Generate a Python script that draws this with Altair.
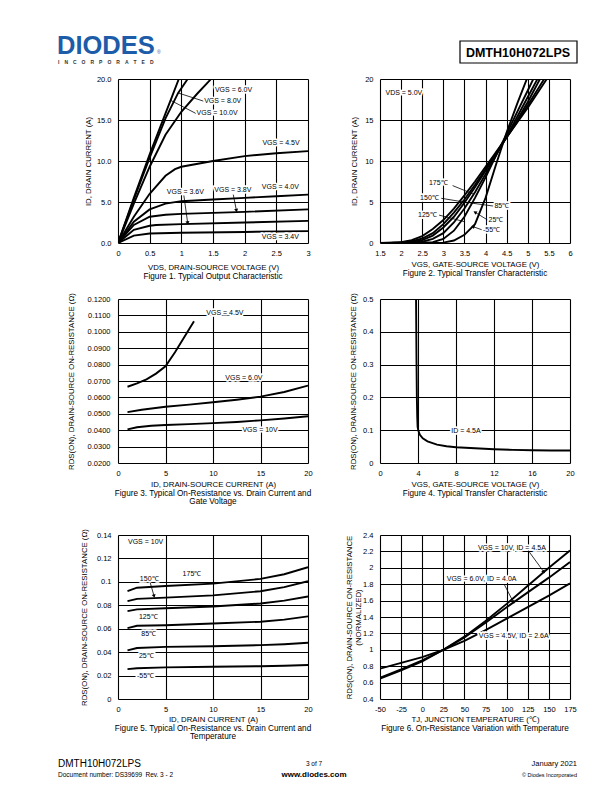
import math
import altair as alt
import pandas as pd

FONT = "Liberation Sans"
PW, PH = 190, 164
LOGO_BLUE = "#1c5ca8"

# ---------------- Figure 1: Typical Output Characteristic ----------------
f1_names = ["VGS = 10.0V", "VGS = 8.0V", "VGS = 6.0V", "VGS = 4.5V",
            "VGS = 4.0V", "VGS = 3.8V", "VGS = 3.6V", "VGS = 3.4V"]
f1_x = [
    [0, 0.25, 0.5, 0.75, 0.85, 0.96, 1.0],
    [0, 0.25, 0.5, 0.75, 0.95, 1.1, 1.15],
    [0, 0.25, 0.5, 0.75, 1.0, 1.25, 1.47, 1.5],
    [0, 0.25, 0.5, 0.75, 0.9, 1.0, 1.5, 2.0, 2.5, 3.0],
    [0, 0.25, 0.5, 0.75, 1.0, 1.5, 2.0, 2.5, 3.0],
    [0, 0.25, 0.5, 0.75, 1.0, 2.0, 3.0],
    [0, 0.25, 0.5, 0.6, 1.0, 2.0, 3.0],
    [0, 0.25, 0.5, 1.0, 2.0, 3.0],
]
f1_y = [
    [0, 5.5, 10.8, 15.8, 17.8, 20.0, 20.8],
    [0, 5.3, 10.4, 15.2, 18.3, 20.0, 20.5],
    [0, 4.8, 9.3, 13.2, 16.0, 18.2, 20.0, 20.3],
    [0, 3.2, 6.0, 8.2, 9.0, 9.3, 10.0, 10.6, 10.95, 11.2],
    [0, 2.6, 4.1, 4.8, 5.1, 5.3, 5.5, 5.7, 5.9],
    [0, 2.2, 3.2, 3.45, 3.55, 3.8, 4.1],
    [0, 1.6, 2.1, 2.2, 2.3, 2.5, 2.7],
    [0, 0.9, 1.15, 1.25, 1.35, 1.45],
]
f1_lab_t = ["VGS = 6.0V", "VGS = 8.0V", "VGS = 10.0V", "VGS = 4.5V",
            "VGS = 3.6V", "VGS = 3.8V", "VGS = 4.0V", "VGS = 3.4V"]
f1_lab_x = [1.53, 1.36, 1.24, 2.28, 0.77, 1.52, 2.27, 2.27]
f1_lab_y = [18.7, 17.3, 15.8, 12.2, 6.2, 6.5, 6.8, 0.72]
f1_ld = [(1.35, 17.3, 0.95, 18.3, 0), (1.23, 15.8, 0.83, 17.4, 0),
         (1.04, 5.8, 1.1, 2.45, 1), (1.82, 5.9, 1.87, 3.95, 1)]

# ---------------- Figure 2: Typical Transfer Characteristic ----------------
f2_names = ["-55℃", "25℃", "85℃", "125℃", "150℃", "175℃"]
f2_x = [
    [2.5, 3.0, 3.25, 3.5, 3.75, 4.0, 4.25, 4.5, 4.75, 5.0, 5.05],
    [2.25, 2.75, 3.0, 3.25, 3.5, 3.75, 4.0, 4.25, 4.5, 4.75, 5.0, 5.15, 5.2],
    [2.0, 2.5, 2.75, 3.0, 3.25, 3.5, 3.75, 4.0, 4.25, 4.5, 4.75, 5.0, 5.25, 5.3],
    [2.0, 2.5, 2.75, 3.0, 3.25, 3.5, 3.75, 4.0, 4.25, 4.5, 4.75, 5.0, 5.3, 5.35],
    [1.75, 2.25, 2.5, 2.75, 3.0, 3.25, 3.5, 3.75, 4.0, 4.25, 4.5, 4.75, 5.0, 5.4, 5.45],
    [1.5, 2.0, 2.25, 2.5, 2.75, 3.0, 3.25, 3.5, 3.75, 4.0, 4.25, 4.5, 4.75, 5.0, 5.45, 5.5],
]
f2_y = [
    [0, 0.05, 0.3, 1.0, 2.3, 5.5, 9.6, 13.5, 17.0, 20.3, 21.0],
    [0, 0.1, 0.5, 1.5, 3.2, 5.5, 8.0, 10.7, 13.3, 16.0, 18.6, 20.2, 20.8],
    [0, 0.15, 0.5, 1.2, 2.5, 4.2, 6.2, 8.4, 10.7, 13.0, 15.4, 17.8, 20.2, 20.6],
    [0.05, 0.35, 0.9, 1.9, 3.2, 4.9, 6.8, 8.8, 10.9, 12.9, 15.0, 17.2, 20.1, 20.5],
    [0, 0.2, 0.55, 1.2, 2.3, 3.7, 5.3, 7.1, 9.0, 11.0, 12.9, 14.8, 16.8, 20.1, 20.5],
    [0, 0.1, 0.35, 0.85, 1.7, 2.8, 4.2, 5.8, 7.5, 9.3, 11.1, 12.9, 14.7, 16.5, 20.0, 20.4],
]
f2_lab_t = ["VDS = 5.0V", "175℃", "150℃", "125℃", "85℃", "25℃", "-55℃"]
f2_lab_x = [1.63, 2.66, 2.45, 2.4, 4.21, 4.07, 3.94]
f2_lab_y = [18.3, 7.3, 5.5, 3.4, 4.48, 2.77, 1.55]
f2_ld = [(3.22, 7.0, 3.72, 5.95, 0), (2.95, 5.45, 3.55, 4.95, 0),
         (4.19, 4.5, 3.62, 4.9, 0), (2.9, 3.4, 3.5, 2.6, 0),
         (4.05, 2.8, 3.75, 3.75, 1), (3.92, 1.6, 3.7, 2.0, 1)]

# ---------------- Figure 3 ----------------
f3_names = ["VGS = 4.5V", "VGS = 6.0V", "VGS = 10V"]
f3_x = [
    [1, 2, 3, 4, 5, 6, 7, 8],
    [1, 2.5, 5, 7.5, 10, 12.5, 15, 17.5, 20],
    [1, 2, 3.5, 5, 7.5, 10, 12.5, 15, 17.5, 20],
]
f3_y = [
    [0.0665, 0.0685, 0.0710, 0.0745, 0.0790, 0.0875, 0.0970, 0.1065],
    [0.0510, 0.0525, 0.0543, 0.0556, 0.0570, 0.0586, 0.0605, 0.0633, 0.0672],
    [0.0405, 0.0418, 0.0427, 0.0432, 0.0437, 0.0443, 0.0450, 0.0460, 0.0471, 0.0485],
]
f3_lab_t = ["VGS = 4.5V", "VGS = 6.0V", "VGS = 10V"]
f3_lab_x = [9.3, 11.3, 13.1]
f3_lab_y = [0.1112, 0.0717, 0.0404]
f3_ld = []

# ---------------- Figure 4 ----------------
f4_names = ["ID = 4.5A"]
f4_x = [[3.79, 3.84, 3.88, 3.92, 3.96, 4.04, 4.2, 4.5, 5, 6, 7, 8, 10, 12, 14, 16, 18, 20]]
f4_y = [[0.52, 0.32, 0.2, 0.14, 0.11, 0.098, 0.086, 0.075, 0.066, 0.056, 0.051, 0.048,
         0.045, 0.042, 0.040, 0.039, 0.038, 0.038]]
f4_lab_t = ["ID = 4.5A"]
f4_lab_x = [7.5]
f4_lab_y = [0.097]
f4_ld = []

# ---------------- Figure 5 ----------------
f5_names = ["175℃", "150℃", "125℃", "85℃", "25℃", "-55℃"]
f5_x = [[1, 2, 5, 10, 15, 17.5, 20]] * 6
f5_y = [
    [0.0920, 0.0950, 0.0965, 0.0985, 0.1025, 0.1065, 0.1125],
    [0.0835, 0.0855, 0.0865, 0.0885, 0.0920, 0.0955, 0.1005],
    [0.0750, 0.0765, 0.0775, 0.0790, 0.0815, 0.0840, 0.0875],
    [0.0605, 0.0625, 0.0630, 0.0645, 0.0660, 0.0678, 0.0705],
    [0.0415, 0.0435, 0.0445, 0.0450, 0.0460, 0.0468, 0.0480],
    [0.0255, 0.0262, 0.0270, 0.0275, 0.0280, 0.0284, 0.0290],
]
f5_lab_t = ["VGS = 10V", "175℃", "150℃", "125℃", "85℃", "25℃", "-55℃"]
f5_lab_x = [1.05, 6.8, 2.3, 2.2, 2.45, 2.2, 2.0]
f5_lab_y = [0.1337, 0.1065, 0.1028, 0.0701, 0.0555, 0.0364, 0.0200]
f5_ld = [(3.4, 0.0990, 3.8, 0.0878, 1)]

# ---------------- Figure 6 ----------------
f6_names = ["VGS = 10V, ID = 4.5A", "VGS = 6.0V, ID = 4.0A", "VGS = 4.5V, ID = 2.6A"]
f6_x = [[-50, -25, 0, 25, 50, 75, 100, 125, 150, 175]] * 3
f6_y = [
    [0.65, 0.75, 0.86, 1.00, 1.16, 1.35, 1.56, 1.78, 2.00, 2.21],
    [0.66, 0.76, 0.87, 1.00, 1.15, 1.33, 1.52, 1.70, 1.88, 2.07],
    [0.77, 0.84, 0.91, 1.00, 1.11, 1.24, 1.38, 1.52, 1.66, 1.81],
]
f6_lab_t = ["VGS = 10V, ID = 4.5A", "VGS = 6.0V, ID = 4.0A", "VGS = 4.5V, ID = 2.6A"]
f6_lab_x = [66, 29, 67]
f6_lab_y = [2.236, 1.86, 1.165]
f6_ld = [(127, 2.19, 144, 1.95, 1), (97, 1.80, 108, 1.58, 1)]

NOVIEW = alt.ViewBackground(stroke="transparent", strokeOpacity=0, strokeWidth=0)


def curves_df(names, xs, ys):
    rows = []
    for n, xx, yy in zip(names, xs, ys):
        for i, (a, b) in enumerate(zip(xx, yy)):
            rows.append({"s": n, "x": a, "y": b, "o": i})
    return pd.DataFrame(rows)


def make_panel(names, xs, ys, xdom, ydom, xvals, yvals, xfmt, yfmt, xtitle, ytitle,
               caption, lab_t, lab_x, lab_y, leaders, ytx=-29, xty=21.5, ylp=7):
    sx = alt.Scale(domain=xdom, nice=False, zero=False)
    sy = alt.Scale(domain=ydom, nice=False, zero=False)
    common = dict(grid=True, ticks=False, domain=False, labelFlush=False,
                  labelOverlap=False,
                  labelFont=FONT, labelFontSize=7.5, labelColor="black",
                  titleFont=FONT, titleFontSize=7.8, titleFontWeight="normal",
                  titleColor="black", gridColor="black", gridWidth=1.1, gridOpacity=1,
                  titleLineHeight=8.5,
                  labelExpr="replace(datum.label, '\u2212', '-')")
    xaxis = alt.Axis(values=xvals, format=xfmt, title=xtitle, labelPadding=6,
                     titleX=PW / 2, titleY=xty, titleBaseline="middle", titleAlign="center",
                     **common)
    yaxis = alt.Axis(values=yvals, format=yfmt, title=ytitle, labelPadding=ylp,
                     titleX=ytx, titleY=PH / 2, titleBaseline="middle", titleAlign="center",
                     titleAngle=270, **common)

    def X(f):
        return alt.X(f, scale=sx, axis=xaxis)

    def Y(f):
        return alt.Y(f, scale=sy, axis=yaxis)

    df = curves_df(names, xs, ys)
    lines = alt.Chart(df).mark_line(color="black", strokeWidth=1.9, clip=True).encode(
        x=X("x:Q"), y=Y("y:Q"), detail="s:N", order="o:Q")
    layers = [lines]
    if leaders:
        ldf = pd.DataFrame(leaders, columns=["x", "y", "x2", "y2", "head"])
        kx = PW / (xdom[1] - xdom[0])
        ky = PH / (ydom[1] - ydom[0])
        ldf["ang"] = [
            math.degrees(math.atan2((r.x2 - r.x) * kx, (r.y2 - r.y) * ky)) % 360
            for r in ldf.itertuples()
        ]
        layers.append(alt.Chart(ldf).mark_rule(color="black", strokeWidth=0.8).encode(
            x=X("x:Q"), y=Y("y:Q"), x2="x2:Q", y2="y2:Q"))
        hd = ldf[ldf["head"] == 1].copy()
        if len(hd):
            hd["x"] = hd["x2"]
            hd["y"] = hd["y2"]
            layers.append(alt.Chart(hd).mark_point(
                shape="triangle-up", filled=True, color="black", opacity=1, size=16).encode(
                x=X("x:Q"), y=Y("y:Q"), angle=alt.Angle("ang:Q", scale=None)))
    tdf = pd.DataFrame({"t": lab_t, "x": lab_x, "y": lab_y})
    layers.append(alt.Chart(tdf).mark_text(
        align="left", baseline="middle", font=FONT, fontSize=7, fill="white",
        stroke="white", strokeWidth=3.5, strokeJoin="round").encode(
        x=X("x:Q"), y=Y("y:Q"), text="t:N"))
    layers.append(alt.Chart(tdf).mark_text(
        align="left", baseline="middle", font=FONT, fontSize=7, color="black").encode(
        x=X("x:Q"), y=Y("y:Q"), text="t:N"))
    return alt.layer(*layers).properties(
        width=PW, height=PH,
        title=alt.TitleParams(text=caption, orient="bottom", offset=1.5,
                              baseline="top", anchor="middle", font=FONT, fontSize=8.2,
                              fontWeight="normal", color="black", lineHeight=7.8))


RDS = "RDS(ON), DRAIN-SOURCE ON-RESISTANCE (Ω)"
p1 = make_panel(f1_names, f1_x, f1_y, [0, 3], [0, 20], [0, 0.5, 1, 1.5, 2, 2.5, 3],
                [0, 5, 10, 15, 20], ".1~f", ".1f", "VDS, DRAIN-SOURCE VOLTAGE (V)",
                "ID, DRAIN CURRENT (A)", ["Figure 1. Typical Output Characteristic"],
                f1_lab_t, f1_lab_x, f1_lab_y, f1_ld, ytx=-30, xty=24.5)
p2 = make_panel(f2_names, f2_x, f2_y, [1.5, 6], [0, 20],
                [1.5, 2, 2.5, 3, 3.5, 4, 4.5, 5, 5.5, 6], [0, 5, 10, 15, 20], ".1~f", "d",
                "VGS, GATE-SOURCE VOLTAGE (V)", "ID, DRAIN CURRENT (A)",
                ["Figure 2. Typical Transfer Characteristic"],
                f2_lab_t, f2_lab_x, f2_lab_y, f2_ld, ytx=-26)
p3 = make_panel(f3_names, f3_x, f3_y, [0, 20], [0.02, 0.12], [0, 5, 10, 15, 20],
                [0.02, 0.03, 0.04, 0.05, 0.06, 0.07, 0.08, 0.09, 0.10, 0.11, 0.12],
                "d", ".4f", "ID, DRAIN-SOURCE CURRENT (A)", RDS,
                ["Figure 3. Typical On-Resistance vs. Drain Current and", "Gate Voltage"],
                f3_lab_t, f3_lab_x, f3_lab_y, f3_ld, ytx=-47, ylp=8)
p4 = make_panel(f4_names, f4_x, f4_y, [0, 20], [0, 0.5], [0, 4, 8, 12, 16, 20],
                [0, 0.1, 0.2, 0.3, 0.4, 0.5], "d", ".1~f",
                "VGS, GATE-SOURCE VOLTAGE (V)", RDS,
                ["Figure 4. Typical Transfer Characteristic"],
                f4_lab_t, f4_lab_x, f4_lab_y, f4_ld, ytx=-27)
p5 = make_panel(f5_names, f5_x, f5_y, [0, 20], [0, 0.14], [0, 5, 10, 15, 20],
                [0, 0.02, 0.04, 0.06, 0.08, 0.10, 0.12, 0.14], "d", ".2~f",
                "ID, DRAIN CURRENT (A)", RDS,
                ["Figure 5. Typical On-Resistance vs. Drain Current and", "Temperature"],
                f5_lab_t, f5_lab_x, f5_lab_y, f5_ld, ytx=-34, xty=20.5)
p6 = make_panel(f6_names, f6_x, f6_y, [-50, 175], [0.4, 2.4],
                [-50, -25, 0, 25, 50, 75, 100, 125, 150, 175],
                [round(0.4 + 0.2 * i, 1) for i in range(11)], "d", ".1~f",
                "TJ, JUNCTION TEMPERATURE (℃)",
                ["RDS(ON), DRAIN-SOURCE ON-RESISTANCE", "(NORMALIZED)"],
                ["Figure 6. On-Resistance Variation with Temperature"],
                f6_lab_t, f6_lab_x, f6_lab_y, f6_ld, ytx=-30.5, xty=20.5)

one = pd.DataFrame({"a": [0]})


def blank(w=1, h=1):
    return alt.Chart(one).mark_text(text="", opacity=0).encode(
        x=alt.value(0), y=alt.value(0)).properties(width=w, height=h, view=NOVIEW)


def txt(t, x, y, size, align="left", weight="normal", color="black", baseline="middle"):
    return alt.Chart(pd.DataFrame({"t": [t]})).mark_text(
        align=align, baseline=baseline, font=FONT, fontSize=size, fontWeight=weight,
        color=color).encode(text="t:N", x=alt.value(x), y=alt.value(y))


EM = "\u2003"
SP = "\u2002"
part_no = "DMTH10H072LPS"
box = alt.Chart(one).mark_rect(fill="white", stroke="black", strokeWidth=1.2).encode(
    x=alt.value(342), x2=alt.value(459), y=alt.value(4), y2=alt.value(26))
header = alt.layer(
    txt("DIODES", -61, 16.5, 25.5, weight="bold", color=LOGO_BLUE, baseline="alphabetic"),
    txt("®", 39, 15, 5, color=LOGO_BLUE),
    txt(EM.join("INCORPORATED"), -60, 24.5, 5, weight="bold", color="#333333"),
    box,
    txt(part_no, 400, 15.5, 12.5, align="center", weight="bold"),
).properties(width=PW, height=42, view=NOVIEW)

footer = alt.layer(
    txt(part_no, -60, 65, 10),
    txt("Document number: DS39699" + SP + "Rev. 3 - 2", -60, 76, 6.5),
    txt("3 of 7", 196, 65, 6.5, align="center"),
    txt("www.diodes.com", 196, 76, 8, align="center", weight="bold"),
    txt("January 2021", 459, 65, 7.5, align="right"),
    txt("© Diodes Incorporated", 459, 75.5, 5.5, align="right"),
).properties(width=PW, height=80, view=NOVIEW)

chart = alt.concat(
    header, blank(),
    p1, p2,
    blank(h=56), blank(),
    p3, p4,
    blank(h=72), blank(),
    p5, p6,
    footer, blank(),
    columns=2,
).properties(
    spacing={"row": 0, "column": 72}, bounds="flush", align="each",
    padding={"left": 49, "top": 23, "right": 5, "bottom": 5},
).configure_view(stroke="transparent", strokeOpacity=0, strokeWidth=0).configure(
    font=FONT, background="white")

chart.save("out.html", embed_options={"renderer": "svg", "actions": False})
